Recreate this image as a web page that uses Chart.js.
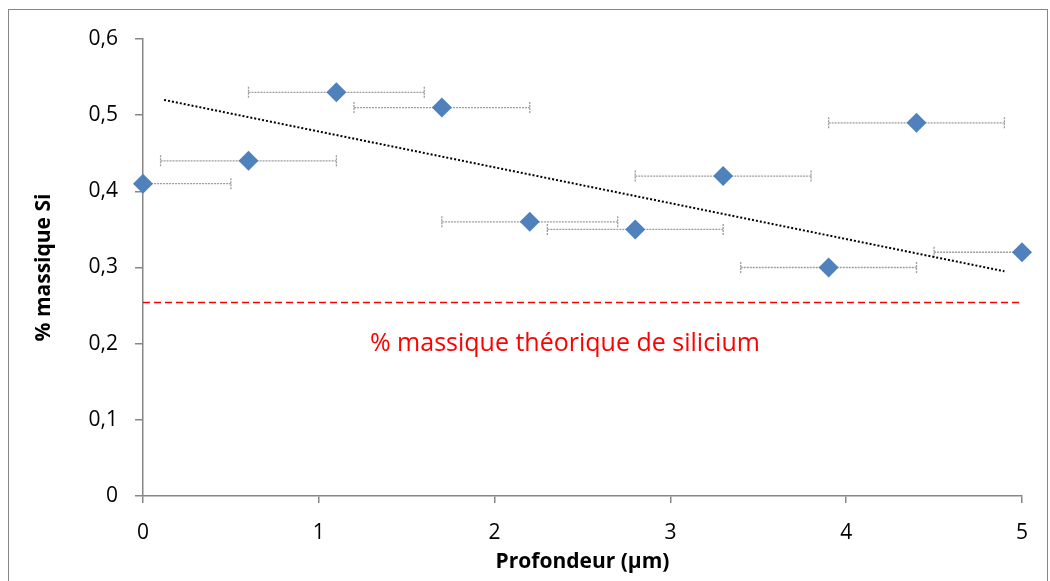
<!DOCTYPE html>
<html>
<head>
<meta charset="utf-8">
<script src="https://cdn.jsdelivr.net/npm/chart.js@4"></script>
<style>
html,body{margin:0;padding:0;background:#fff;overflow:hidden;}
#wrap{position:relative;width:1050px;height:581px;}
</style>
</head>
<body>
<div id="wrap"><canvas id="c" width="1050" height="581"></canvas></div>
<script>
// Data
const depth = [0, 0.6, 1.1, 1.7, 2.2, 2.8, 3.3, 3.9, 4.4, 5.0];
const siMass = [0.41, 0.44, 0.53, 0.51, 0.36, 0.35, 0.42, 0.30, 0.49, 0.32];
const depthErr = [0.5, 0.5, 0.5, 0.5, 0.5, 0.5, 0.5, 0.5, 0.5, 0.5];
const trendX = [0.12, 4.9];
const trendY = [0.52, 0.295];
const theoX = [0, 5];
const theoY = [0.254, 0.254];
const theoLabel = '% massique théorique de silicium';
const yTickLabels = ['0', '0,1', '0,2', '0,3', '0,4', '0,5', '0,6'];
const xTickLabels = ['0', '1', '2', '3', '4', '5'];
const xTitle = 'Profondeur (µm)';
const yTitle = '% massique Si';

const FONT = "'Open Sans', 'DejaVu Sans', sans-serif";
const AXIS = '#868686';

const errorBars = {
  id: 'errorBars',
  beforeDatasetsDraw(chart) {
    const xs = chart.scales.x, ys = chart.scales.y, a = chart.chartArea;
    const ctx = chart.ctx;
    ctx.save();
    ctx.beginPath();
    ctx.rect(a.left, a.top - 20, a.right - a.left, a.bottom - a.top + 20);
    ctx.clip();
    ctx.strokeStyle = '#9c9c9c';
    ctx.lineWidth = 1.3;
    ctx.setLineDash([2, 1]);
    for (let i = 0; i < depth.length; i++) {
      const y = ys.getPixelForValue(siMass[i]);
      const x1 = xs.getPixelForValue(depth[i] - depthErr[i]);
      const x2 = xs.getPixelForValue(depth[i] + depthErr[i]);
      ctx.beginPath();
      ctx.moveTo(x1, y); ctx.lineTo(x2, y);
      ctx.stroke();
      ctx.beginPath();
      ctx.moveTo(x1, y - 5.5); ctx.lineTo(x1, y + 5.5);
      ctx.moveTo(x2, y - 5.5); ctx.lineTo(x2, y + 5.5);
      ctx.stroke();
    }
    ctx.restore();
  },
  afterDatasetsDraw(chart) {
    const xs = chart.scales.x, ys = chart.scales.y;
    const ctx = chart.ctx;
    ctx.save();
    ctx.fillStyle = '#ff0000';
    ctx.font = "25px " + FONT;
    ctx.textAlign = 'center';
    ctx.textBaseline = 'middle';
    ctx.fillText(theoLabel, xs.getPixelForValue(2.4), ys.getPixelForValue(0.2));
    ctx.restore();
  },
  afterDraw(chart) {
    const ctx = chart.ctx;
    ctx.save();
    ctx.strokeStyle = AXIS;
    ctx.lineWidth = 1;
    ctx.strokeRect(8.5, 9.5, 1039, 600);
    ctx.restore();
  }
};

const toPts = (xa, ya) => xa.map((v, i) => ({x: v, y: ya[i]}));

new Chart(document.getElementById('c'), {
  type: 'scatter',
  data: {
    datasets: [
      {
        label: 'Si',
        data: toPts(depth, siMass),
        pointStyle: 'rectRot',
        pointRadius: 10,
        pointHoverRadius: 10,
        backgroundColor: '#4f81bd',
        borderColor: '#4f81bd',
        borderWidth: 0,
        clip: false,
        order: 1
      },
      {
        label: 'trend',
        type: 'line',
        data: toPts(trendX, trendY),
        borderColor: '#000',
        borderWidth: 2,
        borderDash: [2, 2],
        pointRadius: 0,
        fill: false,
        order: 2
      },
      {
        label: 'theo',
        type: 'line',
        data: toPts(theoX, theoY),
        borderColor: '#ff0000',
        borderWidth: 1.5,
        borderDash: [7, 4],
        pointRadius: 0,
        fill: false,
        order: 3
      }
    ]
  },
  options: {
    responsive: false,
    animation: false,
    layout: {padding: {top: 39, right: 28, left: 0, bottom: 0}},
    plugins: {legend: {display: false}, tooltip: {enabled: false}},
    scales: {
      x: {
        type: 'linear', min: 0, max: 5,
        afterFit(s) { s.height = 85; },
        ticks: {stepSize: 1, padding: 17, color: '#000', font: {family: FONT, size: 21},
          callback: (v, i) => xTickLabels[i]},
        grid: {display: true, drawOnChartArea: false, drawTicks: true, tickLength: 7, color: AXIS, lineWidth: 1.5},
        border: {color: AXIS, width: 1.5},
        title: {display: true, text: xTitle, color: '#000', font: {family: FONT, size: 21, weight: 'bold'}, padding: {top: 0, bottom: 6}}
      },
      y: {
        type: 'linear', min: 0, max: 0.6,
        afterFit(s) { s.width = 143; },
        ticks: {stepSize: 0.1, padding: 17, color: '#000', font: {family: FONT, size: 21},
          callback: (v, i) => yTickLabels[i]},
        grid: {display: true, drawOnChartArea: false, drawTicks: true, tickLength: 8, color: AXIS, lineWidth: 1.5},
        border: {color: AXIS, width: 1.5},
        title: {display: true, text: yTitle, color: '#000', font: {family: FONT, size: 21, weight: 'bold'}, padding: {top: 31, bottom: 0}}
      }
    }
  },
  plugins: [errorBars]
});
</script>
</body>
</html>
